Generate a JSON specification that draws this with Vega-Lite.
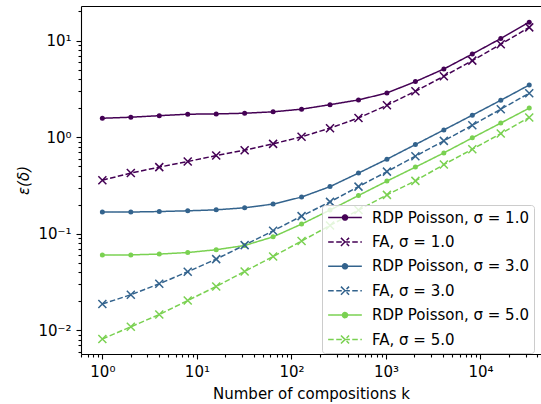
{
  "$schema": "https://vega.github.io/schema/vega-lite/v6.json",
  "width": 460,
  "height": 348,
  "autosize": {"type": "none"},
  "padding": {"left": 81, "top": 6, "right": 0, "bottom": 50},
  "background": "white",
  "config": {
    "view": {"stroke": null},
    "font": "DejaVu Sans",
    "axis": {
      "labelFont": "DejaVu Sans", "labelFontSize": 15, "labelColor": "black",
      "titleFont": "DejaVu Sans", "titleFontSize": 15, "titleFontWeight": "normal", "titleColor": "black",
      "domainColor": "black", "tickColor": "black", "domainWidth": 1.1, "tickWidth": 1.1,
      "grid": false, "tickSize": 5, "labelPadding": 5
    }
  },
  "data": {"values": [
    {"k":1,"eps":1.57,"method":"RDP Poisson","series":"RDP Poisson, σ = 1.0"},
    {"k":2,"eps":1.61,"method":"RDP Poisson","series":"RDP Poisson, σ = 1.0"},
    {"k":4,"eps":1.67,"method":"RDP Poisson","series":"RDP Poisson, σ = 1.0"},
    {"k":8,"eps":1.73,"method":"RDP Poisson","series":"RDP Poisson, σ = 1.0"},
    {"k":16,"eps":1.74,"method":"RDP Poisson","series":"RDP Poisson, σ = 1.0"},
    {"k":32,"eps":1.77,"method":"RDP Poisson","series":"RDP Poisson, σ = 1.0"},
    {"k":64,"eps":1.83,"method":"RDP Poisson","series":"RDP Poisson, σ = 1.0"},
    {"k":128,"eps":1.95,"method":"RDP Poisson","series":"RDP Poisson, σ = 1.0"},
    {"k":256,"eps":2.17,"method":"RDP Poisson","series":"RDP Poisson, σ = 1.0"},
    {"k":512,"eps":2.43,"method":"RDP Poisson","series":"RDP Poisson, σ = 1.0"},
    {"k":1024,"eps":2.87,"method":"RDP Poisson","series":"RDP Poisson, σ = 1.0"},
    {"k":2048,"eps":3.76,"method":"RDP Poisson","series":"RDP Poisson, σ = 1.0"},
    {"k":4096,"eps":5.08,"method":"RDP Poisson","series":"RDP Poisson, σ = 1.0"},
    {"k":8192,"eps":7.26,"method":"RDP Poisson","series":"RDP Poisson, σ = 1.0"},
    {"k":16384,"eps":10.5,"method":"RDP Poisson","series":"RDP Poisson, σ = 1.0"},
    {"k":32768,"eps":15.5,"method":"RDP Poisson","series":"RDP Poisson, σ = 1.0"},
    {"k":1,"eps":0.359,"method":"FA","series":"FA, σ = 1.0"},
    {"k":2,"eps":0.425,"method":"FA","series":"FA, σ = 1.0"},
    {"k":4,"eps":0.49,"method":"FA","series":"FA, σ = 1.0"},
    {"k":8,"eps":0.56,"method":"FA","series":"FA, σ = 1.0"},
    {"k":16,"eps":0.645,"method":"FA","series":"FA, σ = 1.0"},
    {"k":32,"eps":0.734,"method":"FA","series":"FA, σ = 1.0"},
    {"k":64,"eps":0.853,"method":"FA","series":"FA, σ = 1.0"},
    {"k":128,"eps":1.01,"method":"FA","series":"FA, σ = 1.0"},
    {"k":256,"eps":1.24,"method":"FA","series":"FA, σ = 1.0"},
    {"k":512,"eps":1.58,"method":"FA","series":"FA, σ = 1.0"},
    {"k":1024,"eps":2.14,"method":"FA","series":"FA, σ = 1.0"},
    {"k":2048,"eps":2.99,"method":"FA","series":"FA, σ = 1.0"},
    {"k":4096,"eps":4.27,"method":"FA","series":"FA, σ = 1.0"},
    {"k":8192,"eps":6.2,"method":"FA","series":"FA, σ = 1.0"},
    {"k":16384,"eps":9.16,"method":"FA","series":"FA, σ = 1.0"},
    {"k":32768,"eps":13.7,"method":"FA","series":"FA, σ = 1.0"},
    {"k":1,"eps":0.168,"method":"RDP Poisson","series":"RDP Poisson, σ = 3.0"},
    {"k":2,"eps":0.168,"method":"RDP Poisson","series":"RDP Poisson, σ = 3.0"},
    {"k":4,"eps":0.170,"method":"RDP Poisson","series":"RDP Poisson, σ = 3.0"},
    {"k":8,"eps":0.173,"method":"RDP Poisson","series":"RDP Poisson, σ = 3.0"},
    {"k":16,"eps":0.177,"method":"RDP Poisson","series":"RDP Poisson, σ = 3.0"},
    {"k":32,"eps":0.186,"method":"RDP Poisson","series":"RDP Poisson, σ = 3.0"},
    {"k":64,"eps":0.203,"method":"RDP Poisson","series":"RDP Poisson, σ = 3.0"},
    {"k":128,"eps":0.24,"method":"RDP Poisson","series":"RDP Poisson, σ = 3.0"},
    {"k":256,"eps":0.308,"method":"RDP Poisson","series":"RDP Poisson, σ = 3.0"},
    {"k":512,"eps":0.425,"method":"RDP Poisson","series":"RDP Poisson, σ = 3.0"},
    {"k":1024,"eps":0.592,"method":"RDP Poisson","series":"RDP Poisson, σ = 3.0"},
    {"k":2048,"eps":0.839,"method":"RDP Poisson","series":"RDP Poisson, σ = 3.0"},
    {"k":4096,"eps":1.19,"method":"RDP Poisson","series":"RDP Poisson, σ = 3.0"},
    {"k":8192,"eps":1.69,"method":"RDP Poisson","series":"RDP Poisson, σ = 3.0"},
    {"k":16384,"eps":2.41,"method":"RDP Poisson","series":"RDP Poisson, σ = 3.0"},
    {"k":32768,"eps":3.47,"method":"RDP Poisson","series":"RDP Poisson, σ = 3.0"},
    {"k":1,"eps":0.01875,"method":"FA","series":"FA, σ = 3.0"},
    {"k":2,"eps":0.0234,"method":"FA","series":"FA, σ = 3.0"},
    {"k":4,"eps":0.0304,"method":"FA","series":"FA, σ = 3.0"},
    {"k":8,"eps":0.0405,"method":"FA","series":"FA, σ = 3.0"},
    {"k":16,"eps":0.0547,"method":"FA","series":"FA, σ = 3.0"},
    {"k":32,"eps":0.0764,"method":"FA","series":"FA, σ = 3.0"},
    {"k":64,"eps":0.1074,"method":"FA","series":"FA, σ = 3.0"},
    {"k":128,"eps":0.1525,"method":"FA","series":"FA, σ = 3.0"},
    {"k":256,"eps":0.214,"method":"FA","series":"FA, σ = 3.0"},
    {"k":512,"eps":0.308,"method":"FA","series":"FA, σ = 3.0"},
    {"k":1024,"eps":0.44,"method":"FA","series":"FA, σ = 3.0"},
    {"k":2048,"eps":0.636,"method":"FA","series":"FA, σ = 3.0"},
    {"k":4096,"eps":0.916,"method":"FA","series":"FA, σ = 3.0"},
    {"k":8192,"eps":1.33,"method":"FA","series":"FA, σ = 3.0"},
    {"k":16384,"eps":1.95,"method":"FA","series":"FA, σ = 3.0"},
    {"k":32768,"eps":2.85,"method":"FA","series":"FA, σ = 3.0"},
    {"k":1,"eps":0.0602,"method":"RDP Poisson","series":"RDP Poisson, σ = 5.0"},
    {"k":2,"eps":0.0605,"method":"RDP Poisson","series":"RDP Poisson, σ = 5.0"},
    {"k":4,"eps":0.0617,"method":"RDP Poisson","series":"RDP Poisson, σ = 5.0"},
    {"k":8,"eps":0.064,"method":"RDP Poisson","series":"RDP Poisson, σ = 5.0"},
    {"k":16,"eps":0.0684,"method":"RDP Poisson","series":"RDP Poisson, σ = 5.0"},
    {"k":32,"eps":0.0757,"method":"RDP Poisson","series":"RDP Poisson, σ = 5.0"},
    {"k":64,"eps":0.093,"method":"RDP Poisson","series":"RDP Poisson, σ = 5.0"},
    {"k":128,"eps":0.126,"method":"RDP Poisson","series":"RDP Poisson, σ = 5.0"},
    {"k":256,"eps":0.176,"method":"RDP Poisson","series":"RDP Poisson, σ = 5.0"},
    {"k":512,"eps":0.249,"method":"RDP Poisson","series":"RDP Poisson, σ = 5.0"},
    {"k":1024,"eps":0.351,"method":"RDP Poisson","series":"RDP Poisson, σ = 5.0"},
    {"k":2048,"eps":0.49,"method":"RDP Poisson","series":"RDP Poisson, σ = 5.0"},
    {"k":4096,"eps":0.688,"method":"RDP Poisson","series":"RDP Poisson, σ = 5.0"},
    {"k":8192,"eps":0.984,"method":"RDP Poisson","series":"RDP Poisson, σ = 5.0"},
    {"k":16384,"eps":1.4,"method":"RDP Poisson","series":"RDP Poisson, σ = 5.0"},
    {"k":32768,"eps":2.0,"method":"RDP Poisson","series":"RDP Poisson, σ = 5.0"},
    {"k":1,"eps":0.00815,"method":"FA","series":"FA, σ = 5.0"},
    {"k":2,"eps":0.0109,"method":"FA","series":"FA, σ = 5.0"},
    {"k":4,"eps":0.0146,"method":"FA","series":"FA, σ = 5.0"},
    {"k":8,"eps":0.0204,"method":"FA","series":"FA, σ = 5.0"},
    {"k":16,"eps":0.0285,"method":"FA","series":"FA, σ = 5.0"},
    {"k":32,"eps":0.0408,"method":"FA","series":"FA, σ = 5.0"},
    {"k":64,"eps":0.0582,"method":"FA","series":"FA, σ = 5.0"},
    {"k":128,"eps":0.0841,"method":"FA","series":"FA, σ = 5.0"},
    {"k":256,"eps":0.122,"method":"FA","series":"FA, σ = 5.0"},
    {"k":512,"eps":0.176,"method":"FA","series":"FA, σ = 5.0"},
    {"k":1024,"eps":0.253,"method":"FA","series":"FA, σ = 5.0"},
    {"k":2048,"eps":0.353,"method":"FA","series":"FA, σ = 5.0"},
    {"k":4096,"eps":0.521,"method":"FA","series":"FA, σ = 5.0"},
    {"k":8192,"eps":0.751,"method":"FA","series":"FA, σ = 5.0"},
    {"k":16384,"eps":1.09,"method":"FA","series":"FA, σ = 5.0"},
    {"k":32768,"eps":1.6,"method":"FA","series":"FA, σ = 5.0"}
  ]},
  "layer": [
    {
      "mark": {"type": "line", "strokeWidth": 1.5},
      "encoding": {
        "x": {"field": "k", "type": "quantitative",
          "scale": {"type": "log", "domain": [0.5944, 43650], "nice": false},
          "axis": {"values": [1, 10, 100, 1000, 10000], "orient": "bottom",
            "labelExpr": "datum.value == 1 ? '10⁰' : datum.value == 10 ? '10¹' : datum.value == 100 ? '10²' : datum.value == 1000 ? '10³' : '10⁴'",
            "title": "Number of compositions k", "titlePadding": 7}},
        "y": {"field": "eps", "type": "quantitative",
          "scale": {"type": "log", "domain": [0.0057, 22.8], "nice": false},
          "axis": {"values": [0.01, 0.1, 1, 10], "orient": "left",
            "labelExpr": "datum.value < 0.05 ? '10⁻²' : datum.value < 0.5 ? '10⁻¹' : datum.value < 5 ? '10⁰' : '10¹'",
            "title": "ε(δ)", "titleFontStyle": "italic", "titlePadding": 6}},
        "color": {"field": "series", "type": "nominal",
          "scale": {"domain": ["RDP Poisson, σ = 1.0", "FA, σ = 1.0", "RDP Poisson, σ = 3.0", "FA, σ = 3.0", "RDP Poisson, σ = 5.0", "FA, σ = 5.0"],
                    "range": ["#440154", "#440154", "#33638d", "#33638d", "#7ad151", "#7ad151"]},
          "legend": {"title": null, "orient": "none", "legendX": 241, "legendY": 199,
            "padding": 5, "fillColor": "rgba(255,255,255,0.8)", "strokeColor": "#cccccc", "cornerRadius": 3,
            "symbolSize": 1136, "symbolStrokeWidth": 1.5, "labelFont": "DejaVu Sans", "labelFontSize": 15, "labelColor": "black",
            "clipHeight": 15, "rowPadding": 8.4, "labelOffset": 9,
            "encode": {"symbols": {"update": {
              "shape": {"signal": "datum.index % 2 == 0 ? 'M-1,0H1M-0.15,0A0.15,0.15,0,1,0,0.15,0A0.15,0.15,0,1,0,-0.15,0Z' : 'M-1,0H-0.67M-0.52,0H-0.18M-0.04,0H0.29M0.43,0H0.77M0.91,0H1M-0.24,-0.24L0.24,0.24M-0.24,0.24L0.24,-0.24'"},
              "fill": {"signal": "scale('color', datum.value)"},
              "stroke": {"signal": "scale('color', datum.value)"}
            }}}}},
        "strokeDash": {"field": "series", "type": "nominal",
          "scale": {"domain": ["RDP Poisson, σ = 1.0", "FA, σ = 1.0", "RDP Poisson, σ = 3.0", "FA, σ = 3.0", "RDP Poisson, σ = 5.0", "FA, σ = 5.0"],
                    "range": [[1, 0], [5.55, 2.4], [1, 0], [5.55, 2.4], [1, 0], [5.55, 2.4]]},
          "legend": null}
      }
    },
    {
      "transform": [{"filter": "datum.method == 'RDP Poisson'"}],
      "mark": {"type": "point", "filled": true, "shape": "circle", "size": 25, "opacity": 1},
      "encoding": {
        "x": {"field": "k", "type": "quantitative",
          "scale": {"type": "log", "domain": [0.5944, 43650], "nice": false},
          "axis": {"orient": "bottom", "values": [0.6, 0.7, 0.8, 0.9, 2, 3, 4, 5, 6, 7, 8, 9, 20, 30, 40, 50, 60, 70, 80, 90, 200, 300, 400, 500, 600, 700, 800, 900, 2000, 3000, 4000, 5000, 6000, 7000, 8000, 9000, 20000, 30000, 40000],
            "labels": false, "tickSize": 3, "domain": false, "title": null, "grid": false}},
        "y": {"field": "eps", "type": "quantitative",
          "scale": {"type": "log", "domain": [0.0057, 22.8], "nice": false},
          "axis": {"orient": "left", "values": [0.006, 0.007, 0.008, 0.009, 0.02, 0.03, 0.04, 0.05, 0.06, 0.07, 0.08, 0.09, 0.2, 0.3, 0.4, 0.5, 0.6, 0.7, 0.8, 0.9, 2, 3, 4, 5, 6, 7, 8, 9, 20],
            "labels": false, "tickSize": 3, "domain": false, "title": null, "grid": false}},
        "color": {"field": "series", "type": "nominal", "legend": null}
      }
    },
    {
      "transform": [{"filter": "datum.method == 'FA'"}],
      "mark": {"type": "point", "filled": false, "shape": "M-1,-1L1,1M-1,1L1,-1", "size": 64, "strokeWidth": 1.5, "opacity": 1},
      "encoding": {
        "x": {"field": "k", "type": "quantitative",
          "scale": {"type": "log", "domain": [0.5944, 43650], "nice": false},
          "axis": {"orient": "top", "ticks": false, "labels": false, "domain": true, "title": null, "grid": false}},
        "y": {"field": "eps", "type": "quantitative",
          "scale": {"type": "log", "domain": [0.0057, 22.8], "nice": false},
          "axis": null},
        "color": {"field": "series", "type": "nominal", "legend": null}
      }
    }
  ],
  "resolve": {"axis": {"x": "independent", "y": "independent"}}
}
